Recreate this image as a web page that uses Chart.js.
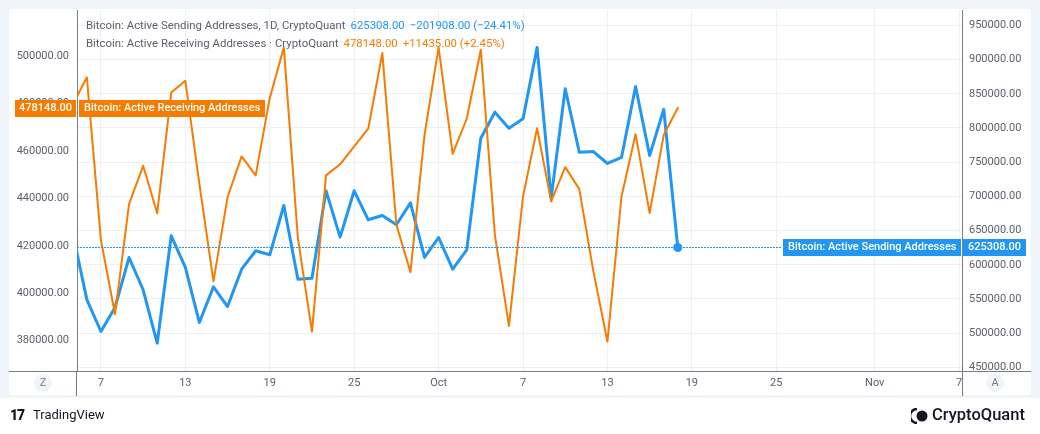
<!DOCTYPE html>
<html>
<head>
<meta charset="utf-8">
<script src="https://cdn.jsdelivr.net/npm/chart.js@4.4.0/dist/chart.umd.min.js"></script>
<style>
  html, body { margin: 0; padding: 0; background: #fff; }
  #wrap { position: relative; width: 1040px; height: 434px; overflow: hidden; font-family: Roboto, "Liberation Sans", sans-serif; }
  #frame { position: absolute; left: 0; top: 0; width: 1040px; height: 398px; box-sizing: border-box; border: 9px solid #f0f3fa; border-bottom-width: 3px; }
  canvas { position: absolute; left: 0; top: 0; }
  .legend { position: absolute; left: 86px; font-size: 11.4px; color: #5d606b; white-space: pre; line-height: 14px; }
  .legend span { margin-left: 5px; }
  .btn { position: absolute; top: 374px; width: 18px; height: 18px; border-radius: 9px; background: #f0f3fa; color: #787b86; font-size: 11px; line-height: 18px; text-align: center; }
  .logo { position: absolute; top: 407px; color: #131722; white-space: pre; }
</style>
</head>
<body>
<div id="wrap">
  <div id="frame"></div>
  <canvas id="chart" width="1040" height="434"></canvas>
  <div class="legend" style="top:18px">Bitcoin: Active Sending Addresses, 1D, CryptoQuant<span style="color:#2196f3">625308.00</span><span style="color:#2196f3">−201908.00 (−24.41%)</span></div>
  <div class="legend" style="top:36px">Bitcoin: Active Receiving Addresses · CryptoQuant<span style="color:#f57c00">478148.00</span><span style="color:#f57c00">+11435.00 (+2.45%)</span></div>
  <div class="btn" style="left:34px">Z</div>
  <div class="btn" style="left:986px">A</div>
  <div class="logo" style="left:10px;font-size:14px;font-weight:900;letter-spacing:-1px">17</div>
  <div class="logo" style="left:33px;font-size:13px">TradingView</div>
  <svg style="position:absolute;left:911px;top:408px" width="18" height="16" viewBox="0 0 18 16">
    <path d="M6 1 A7 7 0 0 0 6 15" fill="none" stroke="#131722" stroke-width="2.5"/>
    <circle cx="11" cy="8" r="5.5" fill="#131722"/>
  </svg>
  <div class="logo" style="left:932px;top:405px;font-size:16.5px;font-weight:500">CryptoQuant</div>
</div>
<script>
// daily values, Sep 5 .. Oct 18
var dates = [
  '2023-09-05', '2023-09-06', '2023-09-07', '2023-09-08', '2023-09-09', '2023-09-10', '2023-09-11', '2023-09-12',
  '2023-09-13', '2023-09-14', '2023-09-15', '2023-09-16', '2023-09-17', '2023-09-18', '2023-09-19', '2023-09-20',
  '2023-09-21', '2023-09-22', '2023-09-23', '2023-09-24', '2023-09-25', '2023-09-26', '2023-09-27', '2023-09-28',
  '2023-09-29', '2023-09-30', '2023-10-01', '2023-10-02', '2023-10-03', '2023-10-04', '2023-10-05', '2023-10-06',
  '2023-10-07', '2023-10-08', '2023-10-09', '2023-10-10', '2023-10-11', '2023-10-12', '2023-10-13', '2023-10-14',
  '2023-10-15', '2023-10-16', '2023-10-17', '2023-10-18'
];

var sending = [
  646000, 549000, 502500, 537600, 610700, 563500, 485400, 642400,
  596200, 515600, 567800, 539000, 593600, 620500, 614600, 686700,
  578900, 580400, 708200, 640400, 708200, 665800, 672100, 658500,
  690600, 610700, 639900, 593600, 621900, 785100, 823100, 799700,
  813500, 917700, 697400, 857300, 764600, 765600, 748100, 756900,
  860700, 759800, 827216, 625308
];

var receiving = [
  479500, 491100, 422500, 391100, 437600, 453750, 433750, 484700,
  489600, 446000, 405000, 440500, 457700, 449700, 482300, 503700,
  423200, 383800, 449700, 454400, 461900, 469400, 501300, 428900,
  408900, 466800, 503700, 458800, 473600, 502700, 424600, 386200,
  440800, 469600, 438700, 453200, 443900, 409200, 379600, 440800,
  467100, 433800, 466713, 478148
];

var tickDates = ['2023-09-07', '2023-09-13', '2023-09-19', '2023-09-25', '2023-10-01', '2023-10-07',
                 '2023-10-13', '2023-10-19', '2023-10-25', '2023-11-01', '2023-11-07'];
var tickLabels = ['7', '13', '19', '25', 'Oct', '7', '13', '19', '25', 'Nov', '7'];

var leftTicks = [380000, 400000, 420000, 440000, 460000, 480000, 500000];
var rightTicks = [450000, 500000, 550000, 600000, 650000, 700000, 750000, 800000, 850000, 900000, 950000];

var blue = '#2196f3';
var orange = '#f57c00';
var axisColor = '#787b86';
var gridColor = '#eef0f4';
var textColor = '#5d606b';

function dayNum(s) {
  return (Date.parse(s) - Date.parse('2023-09-01')) / 864e5 + 1;
}

var lastIdx = dates.length - 1;

var tagPlugin = {
  id: 'tags',
  afterDraw: function(chart) {
    var c = chart.ctx, a = chart.chartArea;
    var left = Math.round(a.left), right = Math.round(a.right);
    c.save();
    c.strokeStyle = axisColor;
    c.lineWidth = 1;
    c.beginPath();
    c.moveTo(left - 0.5, a.bottom);
    c.lineTo(left - 0.5, 396);
    c.moveTo(right + 0.5, a.bottom);
    c.lineTo(right + 0.5, 396);
    c.moveTo(9, Math.round(a.bottom) + 0.5);
    c.lineTo(1031, Math.round(a.bottom) + 0.5);
    c.stroke();

    c.font = '500 11px Roboto';
    c.textBaseline = 'middle';

    // receiving (left axis)
    var yO = Math.round(chart.scales.yL.getPixelForValue(receiving[lastIdx]));
    var nameO = 'Bitcoin: Active Receiving Addresses';
    var wO = Math.round(c.measureText(nameO).width + 10);
    c.fillStyle = orange;
    c.fillRect(left - 62, yO - 8, 61, 17);
    c.fillRect(left + 2, yO - 8, wO, 17);
    c.fillStyle = '#fff';
    c.textAlign = 'center';
    c.fillText(receiving[lastIdx].toFixed(2), left - 31.5, yO + 0.5);
    c.textAlign = 'left';
    c.fillText(nameO, left + 7, yO + 0.5);

    // sending (right axis) with dotted price line
    var yB = Math.round(chart.scales.yR.getPixelForValue(sending[lastIdx]));
    var nameB = 'Bitcoin: Active Sending Addresses';
    var wB = Math.round(c.measureText(nameB).width + 10);
    var xB = right - 1 - wB;
    c.fillStyle = blue;
    for (var x = left; x < xB - 1; x += 3) {
      c.fillRect(x, yB, 2, 1);
    }
    c.fillRect(xB, yB - 8, wB, 17);
    c.fillRect(right + 1, yB - 8, 63, 17);
    c.fillStyle = '#fff';
    c.fillText(nameB, xB + 5, yB + 0.5);
    c.textAlign = 'center';
    c.fillText(sending[lastIdx].toFixed(2), right + 32.5, yB + 0.5);
    c.restore();
  }
};

function fixWidth(w) {
  return function(s) {
    s.width = w;
    s.paddingTop = 0;
    s.paddingBottom = 0;
  };
}

var ctx = document.getElementById('chart').getContext('2d');
var chart = new Chart(ctx, {
  type: 'line',
  data: {
    datasets: [{
      label: 'Bitcoin: Active Receiving Addresses',
      data: dates.map(function(d, i) { return { x: dayNum(d), y: receiving[i] }; }),
      yAxisID: 'yL',
      borderColor: orange,
      borderWidth: 2,
      pointRadius: 0,
      order: 0,
      clip: 0
    }, {
      label: 'Bitcoin: Active Sending Addresses',
      data: dates.map(function(d, i) { return { x: dayNum(d), y: sending[i] }; }),
      yAxisID: 'yR',
      borderColor: blue,
      borderWidth: 3,
      pointRadius: function(c) { return c.dataIndex === lastIdx ? 4.5 : 0; },
      pointBackgroundColor: blue,
      pointBorderWidth: 0,
      order: 1,
      clip: 0
    }]
  },
  options: {
    responsive: false,
    animation: false,
    layout: { padding: { left: 10, right: 10, top: 10, bottom: 39 } },
    elements: { line: { tension: 0, borderJoinStyle: 'round', borderCapStyle: 'round' } },
    plugins: { legend: { display: false }, tooltip: { enabled: false } },
    scales: {
      x: {
        type: 'linear',
        min: 5.3,
        max: 68.2,
        afterBuildTicks: function(s) { s.ticks = tickDates.map(function(d) { return { value: dayNum(d) }; }); },
        afterFit: function(s) { s.height = 24; s.paddingLeft = 0; s.paddingRight = 0; },
        grid: { color: gridColor, drawTicks: false },
        border: { color: axisColor },
        ticks: {
          autoSkip: false, maxRotation: 0, padding: 6, color: textColor, font: { family: 'Roboto', size: 11 },
          callback: function(v, i) { return tickLabels[i]; }
        }
      },
      yL: {
        position: 'left',
        min: 367180,
        max: 519480,
        afterBuildTicks: function(s) { s.ticks = leftTicks.map(function(v) { return { value: v }; }); },
        afterFit: fixWidth(67),
        grid: { drawOnChartArea: false, drawTicks: false },
        border: { color: axisColor },
        ticks: { padding: 8, color: textColor, font: { family: 'Roboto', size: 11 }, callback: function(v) { return v.toFixed(2); } }
      },
      yR: {
        position: 'right',
        min: 444740,
        max: 972500,
        afterBuildTicks: function(s) { s.ticks = rightTicks.map(function(v) { return { value: v }; }); },
        afterFit: fixWidth(68),
        grid: { color: gridColor, drawTicks: false },
        border: { color: axisColor },
        ticks: { padding: 7, color: textColor, font: { family: 'Roboto', size: 11 }, callback: function(v) { return v.toFixed(2); } }
      }
    }
  },
  plugins: [tagPlugin]
});
</script>
</body>
</html>
